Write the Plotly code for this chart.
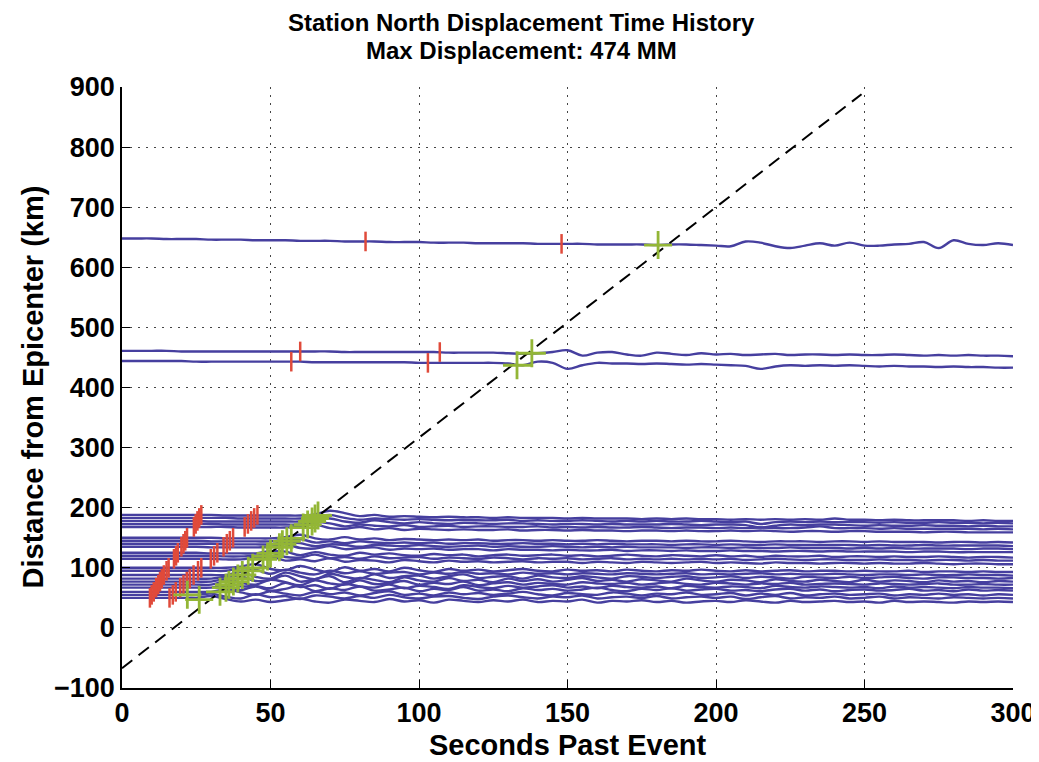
import plotly.graph_objects as go

# ---------------- data ----------------
t_grid = list(range(0, 301, 5))  # seconds

# upper stations: absolute distance (km) sampled on t_grid
far_trace_a = [648,648,648,647,647,647,646,646,646,645,
               645,645,644,644,644,643,643,643,642,642,
               642,641,641,641,640,640,640,640,639,639,
               639,639,638,638,638,638,637,638,638,637,
               636,635,643,641,635,632,636,640,636,641,
               636,636,638,639,642,632,645,639,637,640,
               637]
far_trace_b = [461,461,461,461,460,460,460,460,460,460,
               460,460,460,460,460,459,459,459,459,459,
               459,459,458,458,458,458,457,456,457,459,
               462,453,458,459,455,453,458,456,454,457,
               455,456,454,455,456,454,455,455,454,455,
               454,454,455,454,453,454,453,454,453,453,
               452]
far_trace_c = [444,444,444,444,444,443,443,443,443,443,
               443,443,443,442,442,442,442,442,442,442,
               441,441,441,441,441,441,440,437,443,441,
               431,437,441,440,440,439,440,439,438,439,
               438,437,436,431,435,437,436,437,436,437,
               436,435,436,435,435,434,435,434,434,433,
               433]

# near stations: baseline distance (km) and displacement offsets (km) on t_grid
near_base = [188, 183, 178, 173, 168, 150, 145, 140, 135, 125, 120,
             115, 100, 95, 88, 82, 77, 72, 67, 60, 55, 50]
near_offsets = [
    [0,0,0,0,0,0,0,-1,-1,-1, -1,-1,-1,1,7,3,-2,0,-3,-2, -3,-4,-3,-4,-4,-5,-4,-5,-5,-5,
     -6,-5,-6,-6,-6,-7,-6,-7,-6,-7, -7,-8,-7,-8,-7,-8,-7,-8,-6,-8, -8,-9,-8,-9,-9,-9,-9,-10,-9,-10, -10],
    [0,0,0,0,0,0,0,0,-1,-1, -1,-1,-1,2,5,0,-3,-1,-2,-3, -2,-3,-4,-3,-4,-4,-3,-5,-4,-5,
     -5,-4,-5,-6,-5,-6,-5,-6,-6,-5, -6,-7,-6,-10,-7,-6,-7,-6,-7,-7, -7,-8,-7,-8,-8,-7,-8,-8,-9,-8, -9],
    [0,0,0,0,0,0,-1,-1,-1,-1, -1,-1,-1,1,4,-1,-3,1,-2,-4, -2,-4,-5,-3,-4,-5,-4,-4,-5,-6,
     -5,-5,-6,-5,-6,-6,-6,-5,-6,-7, -6,-6,-7,-11,-8,-6,-7,-6,-6,-7, -8,-7,-8,-8,-7,-8,-8,-9,-8,-9, -9],
    [0,0,0,0,0,0,0,-1,-1,-1, -1,-1,-1,3,1,-4,-1,-3,-4,-2, -5,-4,-3,-5,-4,-4,-5,-5,-4,-6,
     -5,-6,-5,-6,-6,-5,-6,-7,-6,-6, -7,-6,-7,-6,-7,-7,-6,-4,-7,-7, -7,-8,-7,-8,-8,-8,-8,-8,-9,-8, -9],
    [0,0,0,0,0,0,0,0,-1,-1, -1,-1,1,4,-2,-3,0,-4,-2,-5, -3,-4,-5,-4,-5,-5,-4,-6,-5,-5,
     -6,-5,-6,-6,-7,-6,-6,-7,-6,-7, -7,-6,-7,-6,-7,-8,-7,-7,-8,-7, -7,-8,-8,-8,-9,-8,-8,-9,-9,-9, -9],
    [0,0,0,0,0,0,0,-1,-1,-1, -1,1,5,-1,-3,1,-3,-1,-4,-2, -3,-4,-3,-4,-3,-5,-4,-4,-5,-4,
     -5,-5,-4,-5,-6,-5,-5,-6,-5,-6, -6,-5,-6,-7,-6,-6,-6,-7,-6,-6, -7,-6,-7,-7,-7,-8,-7,-7,-8,-7, -8],
    [0,0,0,0,0,0,-1,-1,-1,-1, -1,2,3,-3,-1,-4,-1,-3,-4,-3, -4,-3,-5,-4,-4,-5,-5,-4,-5,-5,
     -6,-5,-6,-5,-6,-6,-6,-7,-6,-6, -7,-6,-7,-7,-6,-7,-7,-7,-7,-7, -8,-7,-8,-8,-7,-8,-8,-8,-8,-8, -9],
    [0,0,0,0,0,0,0,-1,-1,-1, -1,3,1,-4,-1,-2,-5,-2,-3,-4, -2,-4,-5,-4,-3,-5,-4,-5,-5,-4,
     -5,-6,-5,-6,-5,-6,-6,-6,-7,-6, -6,-7,-6,-7,-7,-6,-7,-7,-7,-8, -7,-8,-7,-8,-8,-8,-8,-9,-8,-8, -9],
    [0,0,0,0,0,0,-1,-1,-1,-1, 0,4,-2,-3,1,-4,-2,-1,-5,-3, -4,-3,-5,-4,-4,-6,-4,-5,-5,-6,
     -5,-6,-6,-5,-7,-6,-6,-7,-6,-7, -7,-6,-7,-7,-8,-7,-7,-8,-7,-8, -8,-8,-8,-9,-8,-8,-9,-9,-9,-9, -9],
    [0,0,0,0,0,0,-1,-1,-1,-1, 3,2,-4,1,-3,-5,0,-3,-1,-4, -5,-2,-4,-3,-6,-4,-3,-5,-4,-3,
     -5,-4,-6,-5,-3,-5,-6,-4,-5,-6, -4,-6,-5,-7,-5,-6,-6,-5,-7,-6, -6,-7,-6,-7,-7,-6,-7,-8,-7,-7, -8],
    [0,0,0,0,0,0,0,-1,-1,0, 5,-2,-3,2,-4,-2,-5,-1,-4,-3, -2,-5,-3,-4,-5,-3,-4,-6,-4,-5,
     -4,-6,-5,-4,-6,-5,-6,-5,-6,-5, -6,-5,-7,-6,-5,-6,-7,-6,-6,-7, -7,-6,-7,-7,-8,-7,-7,-8,-7,-8, -8],
    [0,0,0,0,0,0,0,-1,-1,2, 4,-3,-1,-4,1,-5,-2,-3,-6,-2, -4,-6,-3,-5,-4,-6,-5,-4,-6,-5,
     -5,-7,-5,-6,-7,-5,-6,-7,-6,-5, -7,-6,-7,-8,-6,-7,-7,-8,-7,-7, -8,-7,-8,-8,-7,-8,-9,-8,-8,-9, -9],
    [0,0,0,0,0,0,0,0,2,6, -2,-4,3,-3,-7,1,-5,-2,-6,0, -4,-7,-2,-5,-3,-6,-4,-2,-5,-6,
     -3,-5,-4,-6,-3,-5,-6,-4,-5,-3, -5,-6,-4,-6,-5,-4,-6,-5,-5,-6, -5,-6,-6,-5,-7,-6,-6,-7,-6,-7, -7],
    [0,0,0,0,0,0,0,0,4,2, -5,2,-3,-6,0,-4,-1,-5,-3,-2, -6,-3,-5,-2,-5,-4,-6,-3,-5,-4,
     -6,-4,-5,-6,-4,-5,-6,-5,-4,-6, -5,-6,-5,-4,-6,-5,-6,-6,-5,-6, -7,-6,-6,-7,-6,-7,-7,-6,-7,-7, -8],
    [0,0,0,0,0,0,0,0,5,-3, -6,4,-2,-7,2,-3,-6,1,-5,-2, -1,-6,-2,1,-5,-3,-2,-6,-1,-4,
     -5,-2,-4,-6,-2,-3,-5,-3,-2,-5, -4,-2,-5,-3,-4,-6,-3,-4,-5,-3, -5,-4,-3,-5,-6,-4,-4,-5,-5,-6, -5],
    [0,0,0,0,0,0,0,3,4,-4, -2,5,-5,-1,4,-6,1,-2,-6,2, -3,-5,1,-4,-2,-6,0,-4,-1,-5,
     -2,1,-4,-2,-5,-1,-3,-5,0,-3, -5,-2,-3,-6,-1,-4,-5,-2,-4,-6, -2,-5,-3,-4,-6,-3,-5,-4,-6,-4, -5],
    [0,0,0,0,0,0,0,4,-2,-5, 3,-1,-6,2,-3,-5,2,-4,-3,1, -5,-2,-4,0,-6,-3,-1,-5,-2,-4,
     -5,-1,-3,-4,-2,-5,-3,-1,-4,-5, -2,-3,-5,-3,-4,-2,-5,-4,-3,-4, -5,-3,-4,-5,-4,-3,-5,-5,-4,-5, -5],
    [0,0,0,0,0,0,0,5,-3,-2, -6,3,-4,-1,-7,1,-3,-5,0,-6, -2,-4,-7,-1,-4,-6,-2,-5,-3,-1,
     -5,-3,-6,-2,-4,-5,-3,-6,-2,-4, -5,-3,-4,-6,-2,-4,-5,-3,-4,-5, -4,-6,-3,-5,-4,-5,-6,-4,-5,-5, -6],
    [0,0,0,0,0,0,0,3,-4,2, -5,-2,3,-6,-1,-4,2,-5,-3,0, -6,-2,-4,1,-5,-3,-6,-1,-4,-2,
     -5,-3,0,-4,-6,-2,-4,-1,-5,-3, -2,-5,-4,-6,-3,-2,-5,-3,-6,-4, -3,-5,-4,-2,-5,-4,-6,-3,-5,-4, -5],
    [0,0,0,0,0,0,0,4,-1,-5, 1,-3,-6,0,-4,-1,-6,-2,1,-5, -3,-6,-1,-4,-2,-5,-3,0,-4,-6,
     -2,-4,-5,-1,-3,-6,-3,-4,-1,-5, -4,-2,-6,-3,-5,-2,-6,-4,-3,-5, -4,-3,-6,-4,-5,-3,-5,-4,-6,-4, -5],
    [0,0,0,0,0,0,2,-3,-6,1, -4,-2,-7,-1,-3,-6,-2,-5,0,-4, -6,-3,-2,-5,-7,-3,-1,-4,-6,-3,
     -4,-1,-6,-4,-3,-5,-2,-6,-4,-3, -5,-3,-7,-4,-2,-6,-4,-5,-3,-6, -5,-3,-6,-4,-5,-6,-4,-5,-6,-5, -6],
    [0,0,0,0,0,0,3,-2,-6,-3, -7,-4,-1,-6,-8,-3,-5,-7,-2,-6, -4,-8,-3,-5,-7,-4,-6,-3,-7,-5,
     -6,-3,-8,-5,-6,-4,-7,-5,-8,-6, -5,-7,-4,-6,-8,-5,-7,-6,-5,-7, -6,-8,-5,-7,-6,-7,-8,-6,-7,-6, -7],
]

# phase picks: (time s, distance km)
p_pick_t = [26.7, 26.0, 25.4, 24.8, 24.2, 21.9, 21.3, 20.7, 20.0, 18.8, 18.2,
            17.5, 15.7, 15.0, 14.1, 13.4, 12.8, 12.2, 11.5, 10.7, 10.0, 9.4,
            82, 60, 57]
p_pick_d = [188, 183, 178, 173, 168, 150, 145, 140, 135, 125, 120,
            115, 100, 95, 88, 82, 77, 72, 67, 60, 55, 50,
            643, 460, 443]
s_pick_t = [45.6, 44.5, 43.5, 42.4, 41.3, 37.4, 36.3, 35.3, 34.2, 32.1, 31.0,
            29.9, 26.7, 25.6, 24.1, 22.8, 21.8, 20.7, 19.6, 18.1, 17.1, 16.0,
            148, 107, 103]
s_pick_d = [188, 183, 178, 173, 168, 150, 145, 140, 135, 125, 120,
            115, 100, 95, 88, 82, 77, 72, 67, 60, 55, 50,
            639, 459, 441]
surf_pick_t = [66, 65, 64, 62.5, 61, 57, 55.5, 54, 53, 50, 49,
               47.5, 44, 42.5, 40.5, 39, 37.5, 36, 35, 33, 22, 26,
               180.5, 138, 133]
surf_pick_d = [187, 182, 177, 172, 167, 149, 144, 139, 134, 124, 119,
               114, 100, 95, 88, 82, 77, 72, 67, 60, 55, 47,
               637, 457, 437]

# reference velocity line
vel_line_t = [0, 249]
vel_line_d = [-67, 888]

x_ticks = [0, 50, 100, 150, 200, 250, 300]
y_ticks = [-100, 0, 100, 200, 300, 400, 500, 600, 700, 800, 900]

title_line1 = "Station North Displacement Time History"
title_line2 = "Max Displacement: 474 MM"
x_label = "Seconds Past Event"
y_label = "Distance from Epicenter (km)"

# ---------------- figure ----------------
TRACE_COLOR = "#463f9f"
RED = "#e04a3a"
GREEN = "#93b636"
FONT = "Liberation Sans, Arial, Helvetica, sans-serif"

# the page body has an 8px margin; the figure is sized so that it fits the window
FIG_W, FIG_H = 1031, 754
M_L, M_R, M_T, M_B = 114, 26, 79, 74

fig = go.Figure()

all_traces = [far_trace_a, far_trace_b, far_trace_c]
for base, offs in zip(near_base, near_offsets):
    all_traces.append([base + o for o in offs])

for yvals in all_traces:
    fig.add_trace(go.Scatter(
        x=t_grid, y=yvals, mode="lines",
        line=dict(color=TRACE_COLOR, width=2.4, shape="spline", smoothing=1.0),
        hoverinfo="skip", showlegend=False))

fig.add_trace(go.Scatter(
    x=vel_line_t, y=vel_line_d, mode="lines",
    line=dict(color="black", width=2, dash="13px,8px"),
    showlegend=False, hoverinfo="skip"))

for tt, dd in ((p_pick_t, p_pick_d), (s_pick_t, s_pick_d)):
    fig.add_trace(go.Scatter(
        x=tt, y=dd, mode="markers",
        marker=dict(symbol="line-ns", size=14, color=RED,
                    line=dict(color=RED, width=2.5)),
        showlegend=False, hoverinfo="skip"))

fig.add_trace(go.Scatter(
    x=surf_pick_t, y=surf_pick_d, mode="markers",
    marker=dict(symbol="cross-thin", size=20, color=GREEN,
                line=dict(color=GREEN, width=2.8)),
    showlegend=False, hoverinfo="skip"))

axis_common = dict(
    showline=True, linecolor="black", linewidth=1.6,
    ticks="inside", ticklen=8, tickwidth=1.3, tickcolor="black",
    showgrid=True, gridcolor="#444", gridwidth=1, griddash="2px,6px",
    zeroline=False, mirror=False, automargin=False,
    tickfont=dict(family=FONT, size=27, color="black", weight="bold"),
)

fig.update_xaxes(range=[0, 300], tickvals=x_ticks, **axis_common)
fig.update_yaxes(range=[-100, 900], tickvals=y_ticks,
                 ticktext=[("\u2212" + str(-v)) if v < 0 else str(v) for v in y_ticks],
                 **axis_common)

plot_w = FIG_W - M_L - M_R
title_x = (513 - M_L) / plot_w  # title centre sits left of the plot centre

annots = [
    dict(text=title_line1, x=title_x, y=1, xref="paper", yref="paper",
         yanchor="middle", yshift=65, showarrow=False,
         font=dict(family=FONT, size=24, color="black", weight="bold")),
    dict(text=title_line2, x=title_x, y=1, xref="paper", yref="paper",
         yanchor="middle", yshift=37, showarrow=False,
         font=dict(family=FONT, size=24, color="black", weight="bold")),
    dict(text=x_label, x=0.5, y=0, xref="paper", yref="paper",
         yanchor="middle", yshift=-57, showarrow=False,
         font=dict(family=FONT, size=29, color="black", weight="bold")),
    dict(text=y_label, x=0, y=0.5, xref="paper", yref="paper",
         xanchor="center", xshift=-90, textangle=-90, showarrow=False,
         font=dict(family=FONT, size=29, color="black", weight="bold")),
]

fig.update_layout(
    width=FIG_W, height=FIG_H,
    margin=dict(l=M_L, r=M_R, t=M_T, b=M_B),
    paper_bgcolor="white", plot_bgcolor="white",
    annotations=annots,
    showlegend=False,
)

fig.write_html("out.html")
